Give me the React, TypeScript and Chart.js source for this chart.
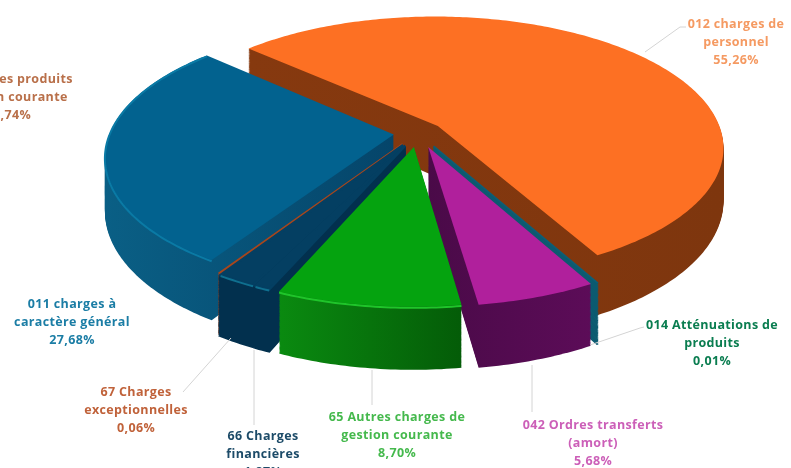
import React, { useEffect, useRef } from "react";
import { Chart, registerables } from "chart.js";

Chart.register(...registerables);

// ---- data ----
const categories = [
  "012 charges de personnel",
  "014 Atténuations de produits",
  "042 Ordres transferts (amort)",
  "65 Autres charges de gestion courante",
  "75 Autres produits gestion courante",
  "66 Charges financières",
  "67 Charges exceptionnelles",
  "011 charges à caractère général",
];
const shares = [55.26, 0.01, 5.68, 8.7, 0.74, 1.87, 0.06, 27.68];
const labelLines = [
  ["012 charges de", "personnel", "55,26%"],
  ["014 Atténuations de", "produits", "0,01%"],
  ["042 Ordres transferts", "(amort)", "5,68%"],
  ["65 Autres charges de", "gestion courante", "8,70%"],
  ["75 Autres produits", "gestion courante", "0,74%"],
  ["66 Charges", "financières", "1,87%"],
  ["67 Charges", "exceptionnelles", "0,06%"],
  ["011 charges à", "caractère général", "27,68%"],
];

// ---- styles and layout ----
const topColors = ["#fd7023", "#0b5f78", "#b0209c", "#05a30f", "#043f62", "#043f62", "#a8461c", "#02628f"];
const wallColors = [
  ["#86390f", "#7e360e"],
  ["#0b5a70", "#0b5a70"],
  ["#4a0a48", "#5c0c58"],
  ["#0a8a10", "#045c08"],
  ["#02304e", "#02304e"],
  ["#02304e", "#02304e"],
  ["#a8461c", "#a8461c"],
  ["#0a5f85", "#05456a"],
];
const bevelColors = [null, null, null, "#1fc52a", "#0f6f8f", "#0f6f8f", null, "#0a7aa5"];
const explode = [19.8, 25, 25, 24, 23.5, 23.5, 22, 19];
const strokeWidths = [0, 1.5, 0, 0, 2.5, 2.5, 1.5, 0];
const paintOrder = [0, 7, 1, 6, 5, 4, 2, 3];
const labelColors = ["#f59a62", "#0a7d50", "#cc5fb8", "#45b94d", "#b9704a", "#1c4b68", "#c0623a", "#1b7da5"];
const labelAnchors = [
  [736, 24],
  [712, 325],
  [593, 425],
  [397, 417],
  [12, 79],
  [263, 436],
  [136, 392],
  [72, 304],
];
const leaders: number[][][] = [
  [[645, 52], [680, 27], [686, 27]],
  [[590, 345], [640, 328], [644, 327]],
  [[532, 365], [532, 412]],
  [[372, 370], [372, 405]],
  [],
  [[254, 350], [254, 425]],
  [[231, 338], [183, 392]],
  [],
];

const CENTER_X = 418;
const CENTER_Y = 133;
const SPAN_X = 284;
const SPAN_Y = 129;
const PERSPECTIVE = 0.16;
const DEPTH = 52;
const LINE_HEIGHT = 18.3;

type P = [number, number];

// Projects a point of the pie's plane (radius = 1) onto the screen, lowered by `drop`.
function project(u: number, v: number, drop: number): P {
  const w = 1 - PERSPECTIVE * v;
  return [CENTER_X + (SPAN_X * u) / w, CENTER_Y + (SPAN_Y * v + drop) / w];
}

function sliceOutline(el: any, drop: number): { apex: P; arc: P[] } {
  const mid = (el.startAngle + el.endAngle) / 2;
  const off = (el.options.offset * (SPAN_X / el.outerRadius)) / SPAN_X;
  const ou = Math.cos(mid) * off;
  const ov = Math.sin(mid) * off;
  const n = Math.max(1, Math.ceil((el.endAngle - el.startAngle) / 0.015));
  const arc: P[] = [];
  for (let k = 0; k <= n; k++) {
    const a = el.startAngle + ((el.endAngle - el.startAngle) * k) / n;
    arc.push(project(ou + Math.cos(a), ov + Math.sin(a), drop));
  }
  return { apex: project(ou, ov, drop), arc };
}

function trace(ctx: CanvasRenderingContext2D, pts: P[], close: boolean) {
  ctx.beginPath();
  pts.forEach(([x, y], k) => (k ? ctx.lineTo(x, y) : ctx.moveTo(x, y)));
  if (close) ctx.closePath();
}

const pie3d = {
  id: "pie3d",
  beforeDatasetDraw(chart: any) {
    const ctx: CanvasRenderingContext2D = chart.ctx;
    const els = chart.getDatasetMeta(0).data;
    for (const i of paintOrder) {
      const el = els[i];
      const top = sliceOutline(el, 0);
      const ring = [top.apex, ...top.arc];
      const xs = ring.map((p) => p[0]);
      const grad = ctx.createLinearGradient(Math.min(...xs), 0, Math.max(...xs), 0);
      grad.addColorStop(0, wallColors[i][0]);
      grad.addColorStop(1, wallColors[i][1]);
      const sw = strokeWidths[i];
      for (let d = DEPTH; d >= 1; d--) {
        const s = sliceOutline(el, d);
        trace(ctx, [s.apex, ...s.arc], true);
        ctx.fillStyle = grad;
        ctx.fill();
        if (sw) {
          ctx.strokeStyle = grad;
          ctx.lineWidth = sw;
          ctx.stroke();
        }
      }
      trace(ctx, ring, true);
      ctx.fillStyle = el.options.backgroundColor;
      ctx.fill();
      if (sw) {
        ctx.strokeStyle = el.options.backgroundColor;
        ctx.lineWidth = sw;
        ctx.stroke();
      }
      const bevel = bevelColors[i];
      if (bevel) {
        trace(ctx, sliceOutline(el, 1).arc, false);
        ctx.strokeStyle = bevel;
        ctx.lineWidth = 2;
        ctx.stroke();
      }
    }
    return false;
  },
  afterDraw(chart: any) {
    const ctx: CanvasRenderingContext2D = chart.ctx;
    ctx.save();
    ctx.strokeStyle = "#d4d4d4";
    ctx.lineWidth = 1;
    leaders.forEach((pts) => {
      if (!pts.length) return;
      trace(ctx, pts as P[], false);
      ctx.stroke();
    });
    ctx.font = "bold 12.5px 'Open Sans'";
    (ctx as any).letterSpacing = "0.35px";
    ctx.textAlign = "center";
    ctx.textBaseline = "middle";
    labelLines.forEach((lines, i) => {
      ctx.fillStyle = labelColors[i];
      lines.forEach((t, k) => {
        ctx.fillText(t, labelAnchors[i][0], labelAnchors[i][1] + k * LINE_HEIGHT);
      });
    });
    ctx.restore();
  },
};

export default function App() {
  const ref = useRef<HTMLCanvasElement>(null);
  useEffect(() => {
    document.body.style.margin = "0";
    document.body.style.background = "#ffffff";
    const chart = new Chart(ref.current as HTMLCanvasElement, {
      type: "pie",
      data: {
        labels: categories,
        datasets: [
          {
            data: shares,
            backgroundColor: topColors,
            borderWidth: 0,
            offset: explode,
          },
        ],
      },
      options: {
        responsive: false,
        animation: false,
        rotation: -47.5,
        layout: { padding: 0 },
        plugins: { legend: { display: false }, tooltip: { enabled: false } },
      },
      plugins: [pie3d],
    } as any);
    return () => chart.destroy();
  }, []);
  return (
    <canvas
      ref={ref}
      width={791}
      height={468}
      style={{ display: "block", width: 791, height: 468, filter: "blur(0.5px)" }}
    />
  );
}
